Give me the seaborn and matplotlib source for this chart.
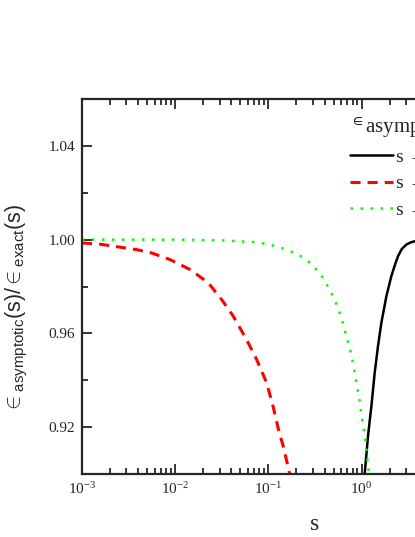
import numpy as np
import pandas as pd
import seaborn as sns
import matplotlib.pyplot as plt
from matplotlib.ticker import LogLocator, MultipleLocator, NullFormatter

# values
s_large = [1.059, 1.079, 1.172, 1.274, 1.380, 1.500, 1.629, 1.845, 2.084, 2.29, 2.455, 2.7, 3.02, 3.35,
           3.715, 4.3, 5.0, 10.0, 100.0]
r_large = [0.897, 0.900, 0.9163, 0.929, 0.943, 0.9546, 0.9645, 0.9759, 0.9844, 0.9895, 0.9929, 0.996,
           0.9979, 0.9988, 0.9993, 0.9998, 1.0, 1.0, 1.0]

s_small1 = [0.001, 0.0016, 0.0039, 0.0056, 0.0088, 0.0145, 0.0226, 0.0314, 0.0419, 0.0582, 0.0745,
            0.0955, 0.112, 0.130, 0.144, 0.167, 0.175]
r_small1 = [0.9986, 0.998, 0.9957, 0.9943, 0.9915, 0.9872, 0.9816, 0.9745, 0.9674, 0.9574, 0.949,
            0.939, 0.929, 0.918, 0.912, 0.901, 0.897]

s_small2 = [0.001, 0.01, 0.0316, 0.0714, 0.0912, 0.122, 0.156, 0.200, 0.256, 0.319, 0.386, 0.444,
            0.501, 0.555, 0.607, 0.653, 0.692, 0.745, 0.783, 0.822, 0.857, 0.893, 0.938, 0.968,
            1.0, 1.045, 1.086, 1.114, 1.143, 1.172, 1.202]
r_small2 = [1.0, 1.0, 0.9997, 0.9989, 0.9983, 0.9972, 0.9957, 0.994, 0.9915, 0.9877, 0.9837, 0.9794,
            0.9752, 0.971, 0.9667, 0.9624, 0.958, 0.9539, 0.95, 0.9458, 0.9416, 0.9373, 0.9333, 0.929,
            0.9248, 0.920, 0.9163, 0.912, 0.908, 0.9038, 0.8995]

labels = ["s \u2192 \u221e", "s \u2192 0", "s \u2192 0"]

sns.set_style("ticks")
plt.rcParams['font.family'] = ['Liberation Serif', 'DejaVu Serif']
plt.rcParams['mathtext.fontset'] = 'custom'
plt.rcParams['mathtext.rm'] = 'Liberation Sans'
plt.rcParams['mathtext.it'] = 'Liberation Sans'

fig = plt.figure(figsize=(4.15, 5.37), dpi=100)
# axes run past the right edge, as in the cropped reference
ax = fig.add_axes([0.1976, 0.1173, 1.1229, 0.6983])

df1 = pd.DataFrame({"s": s_large, "r": r_large})
df2 = pd.DataFrame({"s": s_small1, "r": r_small1})
df3 = pd.DataFrame({"s": s_small2, "r": r_small2})

sns.lineplot(data=df1, x="s", y="r", ax=ax, color="black", lw=1.8, label=labels[0])
sns.lineplot(data=df2, x="s", y="r", ax=ax, color="#ff0000", lw=2.2, label=labels[1])
sns.lineplot(data=df3, x="s", y="r", ax=ax, color="#00ff00", lw=1.8, label=labels[2])
ax.lines[1].set_dashes([3.3, 2.3])
ax.lines[2].set_dashes([1.0, 3.0])
ax.lines[2].set_dash_capstyle("butt")

ax.set_xscale("log")
ax.set_xlim(1e-3, 1e2)
ax.set_ylim(0.90, 1.06)

ax.xaxis.set_major_locator(LogLocator(base=10))
ax.xaxis.set_minor_locator(LogLocator(base=10, subs=np.arange(2, 10)))
ax.xaxis.set_minor_formatter(NullFormatter())
ax.yaxis.set_minor_locator(MultipleLocator(0.02))
ax.set_yticks([0.92, 0.96, 1.00, 1.04])
ax.set_yticklabels(["0.92", "0.96", "1.00", "1.04"])

ax.tick_params(which="both", direction="in", top=True, right=True, width=1.3, labelsize=11, pad=5)
ax.tick_params(which="major", length=7)
ax.tick_params(which="minor", length=4)
for sp in ax.spines.values():
    sp.set_linewidth(1.6)

ax.set_xlabel("s", fontsize=17, labelpad=12)
ax.set_ylabel(r"$\in_{\mathrm{asymptotic}}$(s)/$\in_{\mathrm{exact}}$(s)",
              fontsize=15.5, family=['Liberation Sans', 'DejaVu Sans'])
ax.yaxis.set_label_coords(-0.112, 0.443)

leg = ax.legend(loc="upper left", bbox_to_anchor=(0.537, 1.004), frameon=False,
                fontsize=14, handlelength=2.2, handletextpad=0.2, labelspacing=0.45,
                title=r"$^{\in}$asymptotic(s)", title_fontsize=15)
leg.get_title().set_math_fontfamily('stix')
leg._legend_box.align = "left"

plt.savefig("out.png", dpi=100)
